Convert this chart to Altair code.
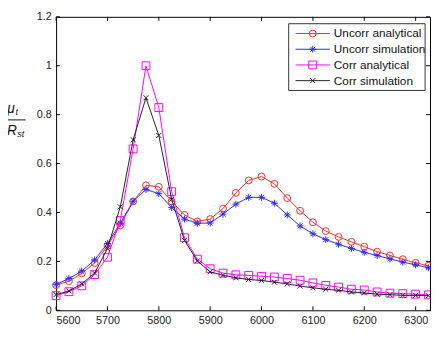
import altair as alt
import pandas as pd

freq = [5600, 5625, 5650, 5675, 5700, 5725, 5750, 5775, 5800, 5825, 5850, 5875, 5900, 5925, 5950,
        5975, 6000, 6025, 6050, 6075, 6100, 6125, 6150, 6175, 6200, 6225, 6250, 6275, 6300, 6325]

uncorr_analytical = [0.103, 0.119, 0.151, 0.193, 0.264, 0.347, 0.445, 0.511, 0.505, 0.445, 0.39, 0.363,
                     0.373, 0.416, 0.48, 0.531, 0.547, 0.517, 0.459, 0.407, 0.36, 0.324, 0.30, 0.28,
                     0.26, 0.24, 0.224, 0.209, 0.194, 0.182]
uncorr_simulation = [0.106, 0.13, 0.16, 0.206, 0.273, 0.356, 0.446, 0.494, 0.477, 0.42, 0.373, 0.356,
                     0.357, 0.393, 0.434, 0.462, 0.462, 0.438, 0.39, 0.345, 0.313, 0.289, 0.27, 0.253,
                     0.237, 0.224, 0.21, 0.197, 0.186, 0.174]
corr_analytical = [0.06, 0.076, 0.10, 0.146, 0.217, 0.367, 0.66, 1.0, 0.829, 0.485, 0.297, 0.209,
                   0.17, 0.152, 0.145, 0.143, 0.139, 0.136, 0.13, 0.123, 0.112, 0.102, 0.095, 0.086,
                   0.083, 0.075, 0.07, 0.068, 0.066, 0.063]
corr_simulation = [0.064, 0.079, 0.108, 0.152, 0.253, 0.423, 0.697, 0.869, 0.715, 0.454, 0.286, 0.202,
                   0.157, 0.143, 0.133, 0.126, 0.122, 0.115, 0.108, 0.099, 0.092, 0.086, 0.082, 0.075,
                   0.071, 0.066, 0.064, 0.061, 0.061, 0.06]

series_names = ["Uncorr analytical", "Uncorr simulation", "Corr analytical", "Corr simulation"]
series_values = [uncorr_analytical, uncorr_simulation, corr_analytical, corr_simulation]
series_colors = ["#ff2a2a", "#2a2aff", "#ff00ff", "#222222"]
ASTERISK = "M-1,0L1,0M0,-1L0,1M-0.7,-0.7L0.7,0.7M-0.7,0.7L0.7,-0.7"
XMARK = "M-1,-1L1,1M-1,1L1,-1"
series_shapes = ["circle", ASTERISK, "square", XMARK]
series_sizes = [49, 49, 64, 25]

x_ticks = [5600, 5700, 5800, 5900, 6000, 6100, 6200, 6300]
y_ticks = [0, 0.2, 0.4, 0.6, 0.8, 1.0, 1.2]

W, H = 381, 299
FONT = "Liberation Sans"

xscale = alt.Scale(domain=[5600, 6328], nice=False, zero=False)
yscale = alt.Scale(domain=[0, 1.2], nice=False)

layers = []
for i, (name, vals, col, shp, sz) in enumerate(zip(series_names, series_values, series_colors,
                                                   series_shapes, series_sizes)):
    df = pd.DataFrame({"freq": freq, "val": vals, "series": name})
    base = alt.Chart(df)
    if i == 0:
        xenc = alt.X("freq:Q", scale=xscale,
                     axis=alt.Axis(values=x_ticks, title=None, ticks=False, domain=False, grid=False,
                                   labelPadding=4, format="d"))
        yenc = alt.Y("val:Q", scale=yscale,
                     axis=alt.Axis(values=y_ticks, title=None, ticks=False, domain=False, grid=False,
                                   labelPadding=5, format="~g"))
    else:
        xenc = alt.X("freq:Q", scale=xscale)
        yenc = alt.Y("val:Q", scale=yscale)
    layers.append(base.mark_line(color=col, strokeWidth=1).encode(x=xenc, y=yenc))
    layers.append(base.mark_point(color=col, shape=shp, size=sz, filled=False, strokeWidth=1,
                                  opacity=1).encode(x=xenc, y=yenc))

# inward ticks on all four sides
xt = alt.Chart(pd.DataFrame({"freq": x_ticks}))
yt = alt.Chart(pd.DataFrame({"val": y_ticks}))
layers.append(xt.mark_rule(color="black", strokeWidth=1).encode(
    x=alt.X("freq:Q", scale=xscale), y=alt.value(H), y2=alt.value(H - 4)))
layers.append(xt.mark_rule(color="black", strokeWidth=1).encode(
    x=alt.X("freq:Q", scale=xscale), y=alt.value(0), y2=alt.value(4)))
layers.append(yt.mark_rule(color="black", strokeWidth=1).encode(
    y=alt.Y("val:Q", scale=yscale), x=alt.value(0), x2=alt.value(4)))
layers.append(yt.mark_rule(color="black", strokeWidth=1).encode(
    y=alt.Y("val:Q", scale=yscale), x=alt.value(W), x2=alt.value(W - 4)))

# legend box
one = pd.DataFrame({"a": [0]})
layers.append(alt.Chart(one).mark_rect(fill="white", stroke="#333333", strokeWidth=1).encode(
    x=alt.value(237), x2=alt.value(376), y=alt.value(7), y2=alt.value(75)))
for i, (name, col, shp, sz) in enumerate(zip(series_names, series_colors, series_shapes, series_sizes)):
    ly = 17 + 16 * i
    ld = alt.Chart(pd.DataFrame({"label": [name]}))
    layers.append(ld.mark_rule(color=col, strokeWidth=1).encode(
        x=alt.value(244), x2=alt.value(279), y=alt.value(ly)))
    layers.append(ld.mark_point(color=col, shape=shp, size=sz, filled=False, strokeWidth=1,
                                opacity=1).encode(x=alt.value(261.5), y=alt.value(ly)))
    layers.append(ld.mark_text(align="left", baseline="middle", font=FONT, fontSize=12,
                               color="#111111").encode(
        x=alt.value(283), y=alt.value(ly), text="label:N"))

# y-axis title as a fraction mu_t / R_st
def txt(s, x, y, size):
    return alt.Chart(pd.DataFrame({"s": [s]})).mark_text(
        font=FONT, fontSize=size, fontStyle="italic", align="center", baseline="middle",
        color="#111111").encode(x=alt.value(x), y=alt.value(y), text="s:N")

layers.append(txt("μ", -46, 94, 14))
layers.append(txt("t", -40, 97, 9))
layers.append(alt.Chart(one).mark_rule(color="#111111", strokeWidth=1).encode(
    x=alt.value(-50), x2=alt.value(-31), y=alt.value(105)))
layers.append(txt("R", -45, 116, 14))
layers.append(txt("st", -36, 119, 9))

chart = alt.layer(*layers).properties(
    width=W, height=H,
    autosize=alt.AutoSizeParams(type="none"),
    padding={"left": 49, "top": 6, "right": 1, "bottom": 14},
).configure_view(stroke="black", strokeWidth=1).configure_axis(
    labelFont=FONT, labelFontSize=11, labelColor="#222222"
)

chart.save("out.html", embed_options={"renderer": "svg", "actions": False})
